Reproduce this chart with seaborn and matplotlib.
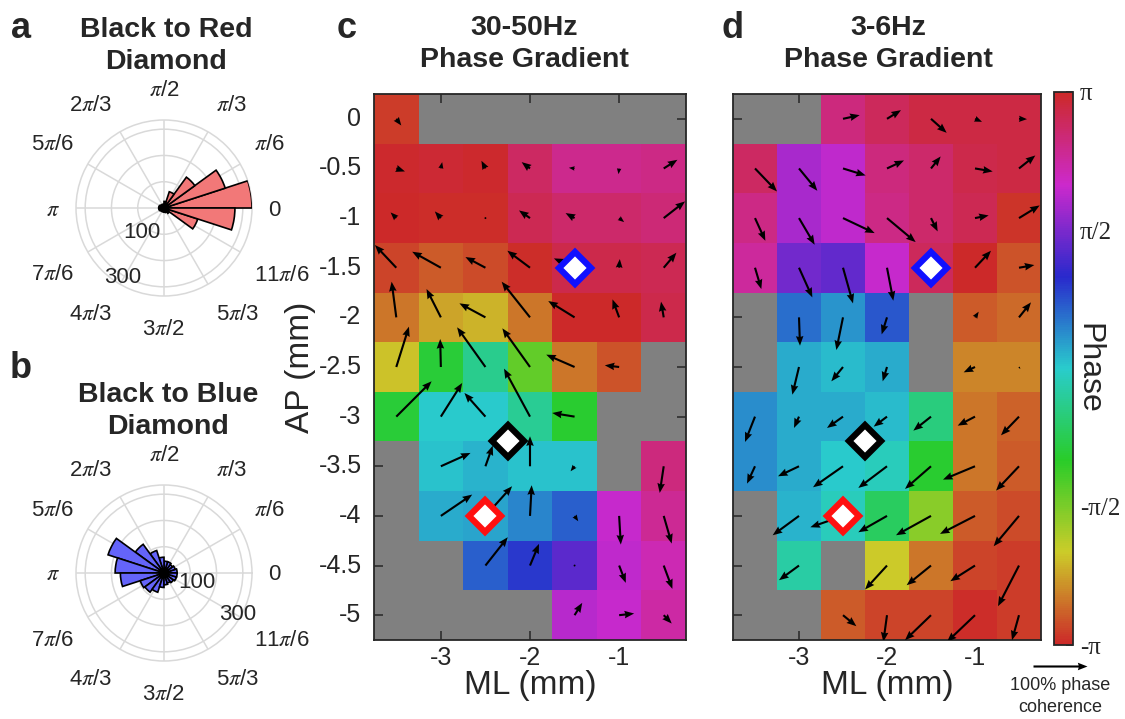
import numpy as np
import pandas as pd
import matplotlib
matplotlib.use("Agg")
import matplotlib.pyplot as plt
import seaborn as sns
from matplotlib.colors import ListedColormap, Normalize, hsv_to_rgb
from matplotlib.cm import ScalarMappable

nan = np.nan

# ---------------- data ----------------
ML = [-3.5, -3.0, -2.5, -2.0, -1.5, -1.0, -0.5]
AP = [0, -0.5, -1, -1.5, -2, -2.5, -3, -3.5, -4, -4.5, -5]
ml_ticks = [-3, -2, -1]

# 30-50 Hz phase map (rad), NaN = no data (grey)
phase_gamma = [
    [-3.00, nan, nan, nan, nan, nan, nan],
    [3.10, 3.05, 3.10, 2.75, 2.50, 2.50, 2.55],
    [3.12, -3.10, -3.10, 2.85, 2.70, 2.70, 2.65],
    [-2.95, -2.80, -2.90, -3.10, 2.90, 2.90, 2.85],
    [-2.65, -2.35, -2.25, -2.65, -3.12, 3.12, 2.92],
    [-2.15, -0.95, -0.40, -1.40, -2.65, -2.85, nan],
    [-0.95, 0.00, 0.00, -0.35, -1.00, nan, nan],
    [nan, 0.05, 0.15, 0.05, 0.05, nan, 2.60],
    [nan, 0.20, 0.25, 0.45, 0.70, 2.05, 2.45],
    [nan, nan, 0.70, 0.95, 1.35, 2.00, 2.25],
    [nan, nan, nan, nan, 1.95, 2.05, 2.35],
]
# phase-gradient vectors (x right, y up), coherence-scaled
u_gamma = [
    [15, nan, nan, nan, nan, nan, nan],
    [26, 4, -12, -25, -17, -2, 41],
    [-17, -18, -5, -33, -27, 15, 64],
    [-64, -86, -60, -68, -62, 2, 38],
    [-14, -43, -78, -85, -79, -20, -8],
    [38, -2, -85, -83, -85, -43, nan],
    [106, 64, -63, -78, -67, nan, nan],
    [nan, 89, 22, 0, -12, nan, -12],
    [nan, 94, 80, 5, 11, 5, 24],
    [nan, nan, 67, 27, 3, 20, 26],
    [nan, nan, nan, nan, 23, 45, 24],
]
v_gamma = [
    [-20, nan, nan, nan, nan, nan, nan],
    [-9, 19, 23, 19, 2, -17, 26],
    [17, 20, 2, 23, 15, -12, 50],
    [68, 48, 32, 51, 28, 26, 45],
    [107, 85, 42, 107, 49, 54, 47],
    [121, 84, 119, 116, 37, 5, nan],
    [106, 101, 71, 144, 11, nan, nan],
    [nan, 40, 62, 90, -15, nan, -80],
    [nan, 64, 89, 92, -16, -86, -83],
    [nan, nan, 85, 65, 3, -52, -70],
    [nan, nan, nan, nan, 37, 5, -25],
]

# 3-6 Hz phase map (rad)
phase_theta = [
    [nan, nan, 2.60, 2.80, 2.95, 2.95, 2.95],
    [2.75, 1.85, 2.00, 2.60, 2.70, 2.90, 2.95],
    [2.55, 1.85, 2.00, 2.55, 2.70, 2.85, -3.05],
    [2.40, 1.50, 1.40, 2.05, 2.80, 3.12, -2.85],
    [nan, 0.60, 0.35, 0.75, nan, -2.80, -2.70],
    [nan, 0.20, 0.10, 0.20, nan, -2.55, -2.55],
    [0.40, 0.20, 0.20, 0.10, -0.50, -2.65, -2.75],
    [0.40, 0.20, 0.00, -0.10, -1.00, -2.65, -2.80],
    [nan, 0.15, -0.10, -0.70, -1.65, -2.80, -2.90],
    [nan, -0.25, nan, -2.10, -2.65, -2.95, -3.00],
    [nan, nan, -2.80, -2.95, -2.95, -3.10, -3.00],
]
u_theta = [
    [nan, nan, 50, 42, 47, 21, 24],
    [66, 55, 68, 51, 29, 53, 49],
    [31, 47, 95, 86, 20, 41, 62],
    [19, 40, 30, 19, 2, 48, 46],
    [nan, 3, -20, -16, nan, 11, 36],
    [nan, -20, -35, -13, nan, -34, 4],
    [-30, -15, -48, -40, -53, -52, -54],
    [-24, -63, -90, -86, -78, -96, -69],
    [nan, -79, -98, -86, -105, -105, -76],
    [nan, -60, nan, -66, -73, -74, -63],
    [nan, nan, 40, -11, -78, -84, -21],
]
v_theta = [
    [nan, nan, 11, 26, -42, -9, -1],
    [-69, -67, -21, 24, 36, -9, 39],
    [-68, -80, -45, -72, -40, 8, 38],
    [-64, -89, -107, -99, -2, 51, 8],
    [nan, -85, -98, -51, nan, 17, 45],
    [nan, -83, -43, -43, nan, -16, -6],
    [-76, -34, -34, -30, -42, -27, -56],
    [-52, -30, -63, -65, -68, -40, -73],
    [nan, -58, -34, -49, -58, -54, -91],
    [nan, -44, nan, -72, -59, -47, -122],
    [nan, nan, -33, -80, -75, -80, -75],
]
key_length = 162  # 100% phase coherence

# electrode diamonds (ML, AP)
black_site = (-2.25, -3.25)
red_site = (-2.5, -4.0)
blue_site = (-1.5, -1.5)

# polar histograms: 20 bins of 18 deg starting at 0
bin_deg = 18
red_counts = [335, 245, 145, 65, 25, 15, 12, 15, 18, 20, 20, 18, 15, 14, 15, 16, 18, 25, 135, 270]
blue_counts = [50, 45, 40, 45, 45, 60, 90, 135, 224, 186, 166, 95, 90, 77, 55, 45, 40, 45, 50, 50]
theta_labels = ['0', r'$\pi$/6', r'$\pi$/3', r'$\pi$/2', r'2$\pi$/3', r'5$\pi$/6', r'$\pi$',
                r'7$\pi$/6', r'4$\pi$/3', r'3$\pi$/2', r'5$\pi$/3', r'11$\pi$/6']
r_ticks = [100, 200, 300]
r_max = 335

# ---------------- style ----------------
sns.set_style("ticks")
plt.rcParams['font.family'] = ['Liberation Sans', 'DejaVu Sans']
plt.rcParams['mathtext.fontset'] = 'stix'
DARK = '#262626'

hues = np.linspace(0, 1, 256)
cmap = ListedColormap(hsv_to_rgb(np.stack([hues, np.full(256, 0.8), np.full(256, 0.8)], axis=1)))

W, H = 1125, 719
fig = plt.figure(figsize=(W / 100, H / 100), dpi=100)


def box(l, t, r, b):
    return [l / W, 1 - b / H, (r - l) / W, (b - t) / H]


# ---------------- polar panels ----------------
def polar_panel(rect, counts, color, rlab_pos):
    ax = fig.add_axes(rect, projection='polar')
    centers = np.deg2rad(np.arange(len(counts)) * bin_deg + bin_deg / 2)
    ax.bar(centers, counts, width=np.deg2rad(bin_deg), color=color, edgecolor='black', linewidth=1.2, zorder=3)
    ax.set_ylim(0, r_max)
    angles = np.arange(0, 360, 30)
    ax.set_thetagrids(angles, [''] * len(angles))
    ax.set_rgrids(r_ticks, labels=['', '', ''])
    ax.grid(color='#d9d9d9', linewidth=1.1)
    ax.spines['polar'].set_color('#d9d9d9')
    ax.spines['polar'].set_linewidth(1.1)
    ax.tick_params(axis='x', length=0)
    for a, lab in zip(angles, theta_labels):
        c, s = np.cos(np.deg2rad(a)), np.sin(np.deg2rad(a))
        ha = 'left' if c > 0.1 else ('right' if c < -0.1 else 'center')
        va = 'bottom' if s > 0.1 else ('top' if s < -0.1 else 'center')
        ax.annotate(lab, xy=(np.deg2rad(a), r_max), xytext=(16 * c, 21 * s - 2),
                    textcoords='offset pixels', ha=ha, va=va, fontsize=16, color=DARK,
                    annotation_clip=False)
    for (ang, rr), txt in zip(rlab_pos, ['100', '300']):
        ax.text(np.deg2rad(ang), rr, txt, fontsize=16, color=DARK, ha='center', va='center', zorder=5)
    ax.set_facecolor('none')
    return ax


polar_panel(box(76, 120, 252, 296), red_counts, '#f27878', [(228, 128), (239.6, 308)])
polar_panel(box(76, 485, 252, 661), blue_counts, '#6464fa', [(-17, 129), (-29.4, 323)])

fig.text(21 / W, 1 - 28 / H, 'a', fontsize=26, fontweight='bold', ha='center', va='center')
fig.text(166 / W, 1 - 30 / H, 'Black to Red', fontsize=20.5, fontweight='bold', ha='center', va='center')
fig.text(166 / W, 1 - 62 / H, 'Diamond', fontsize=20.5, fontweight='bold', ha='center', va='center')
fig.text(21 / W, 1 - 368 / H, 'b', fontsize=26, fontweight='bold', ha='center', va='center')
fig.text(168 / W, 1 - 395 / H, 'Black to Blue', fontsize=20.5, fontweight='bold', ha='center', va='center')
fig.text(168 / W, 1 - 427 / H, 'Diamond', fontsize=20.5, fontweight='bold', ha='center', va='center')


# ---------------- phase maps ----------------
def to_grid(ml, ap):
    return (ml - ML[0]) / 0.5 + 0.5, (AP[0] - ap) / 0.5 + 0.5


def phase_map(rect, phase, u, v, ylabels):
    ax = fig.add_axes(rect)
    df = pd.DataFrame(phase, index=AP, columns=ML)
    sns.heatmap(df, ax=ax, cmap=cmap, vmin=-np.pi, vmax=np.pi, cbar=False)
    ax.set_facecolor('#808080')
    X, Y = np.meshgrid(np.arange(len(ML)) + 0.5, np.arange(len(AP)) + 0.5)
    q = ax.quiver(X, Y, np.array(u, float), np.array(v, float), angles='uv', pivot='tail',
                  scale_units='inches', scale=300, units='inches', width=0.021,
                  headwidth=3.6, headlength=4.6, headaxislength=4.2, color='black', zorder=4)
    for (ml, ap), col in zip([black_site, red_site, blue_site], ['black', '#ff1010', '#1010ff']):
        gx, gy = to_grid(ml, ap)
        ax.plot([gx], [gy], marker='D', ms=16.3, mfc='white', mec=col, mew=4.5, ls='', zorder=6)
    ax.set_xticks([to_grid(m, 0)[0] for m in ml_ticks])
    ax.set_xticklabels([f'{m:g}' for m in ml_ticks], rotation=0)
    ax.set_yticks([to_grid(0, a)[1] for a in AP])
    ax.set_yticklabels([f'{a:g}' for a in AP] if ylabels else [], rotation=0)
    ax.tick_params(direction='in', top=True, right=True, length=6.5, width=1.1, labelsize=18,
                   colors=DARK, pad=4)
    ax.tick_params(axis='y', pad=9)
    for s in ax.spines.values():
        s.set_visible(True)
        s.set_color(DARK)
        s.set_linewidth(1.3)
    ax.set_xlabel('ML (mm)', fontsize=24, color=DARK, labelpad=0)
    ax.set_ylabel('AP (mm)' if ylabels else '', fontsize=24, color=DARK)
    ax.yaxis.set_label_coords(-0.186, 0.5)
    return ax, q


axc, qc = phase_map(box(374, 94, 686, 640), phase_gamma, u_gamma, v_gamma, True)
axd, qd = phase_map(box(733, 94, 1041, 640), phase_theta, u_theta, v_theta, False)

fig.text(347 / W, 1 - 28 / H, 'c', fontsize=26, fontweight='bold', ha='center', va='center')
fig.text(524 / W, 1 - 28 / H, '30-50Hz', fontsize=20.5, fontweight='bold', ha='center', va='center')
fig.text(524 / W, 1 - 60 / H, 'Phase Gradient', fontsize=20.5, fontweight='bold', ha='center', va='center')
fig.text(733 / W, 1 - 28 / H, 'd', fontsize=26, fontweight='bold', ha='center', va='center')
fig.text(888 / W, 1 - 28 / H, '3-6Hz', fontsize=20.5, fontweight='bold', ha='center', va='center')
fig.text(888 / W, 1 - 60 / H, 'Phase Gradient', fontsize=20.5, fontweight='bold', ha='center', va='center')

# ---------------- colorbar ----------------
cax = fig.add_axes(box(1054, 92, 1073, 645))
cb = fig.colorbar(ScalarMappable(norm=Normalize(-np.pi, np.pi), cmap=cmap), cax=cax)
cb.set_ticks([-np.pi, -np.pi / 2, 0, np.pi / 2, np.pi])
cb.set_ticklabels(['-π', '-π/2', '', 'π/2', 'π'])
for t in cax.get_yticklabels():
    t.set_fontfamily(['Liberation Serif', 'DejaVu Serif'])
cax.tick_params(direction='in', length=5, width=1.1, labelsize=18, colors=DARK, pad=5)
cb.outline.set_edgecolor(DARK)
cb.outline.set_linewidth(1.3)
cb.set_label('Phase', rotation=270, fontsize=23, color=DARK, labelpad=-12)

# ---------------- key ----------------
axd.quiverkey(qd, 1060 / W, 1 - 666 / H, key_length, '', coordinates='figure', labelpos='N')
fig.text(1060 / W, 1 - 685 / H, '100% phase', fontsize=13, color=DARK, ha='center', va='center')
fig.text(1060 / W, 1 - 707 / H, 'coherence', fontsize=13, color=DARK, ha='center', va='center')

fig.savefig('out.png', dpi=100)
